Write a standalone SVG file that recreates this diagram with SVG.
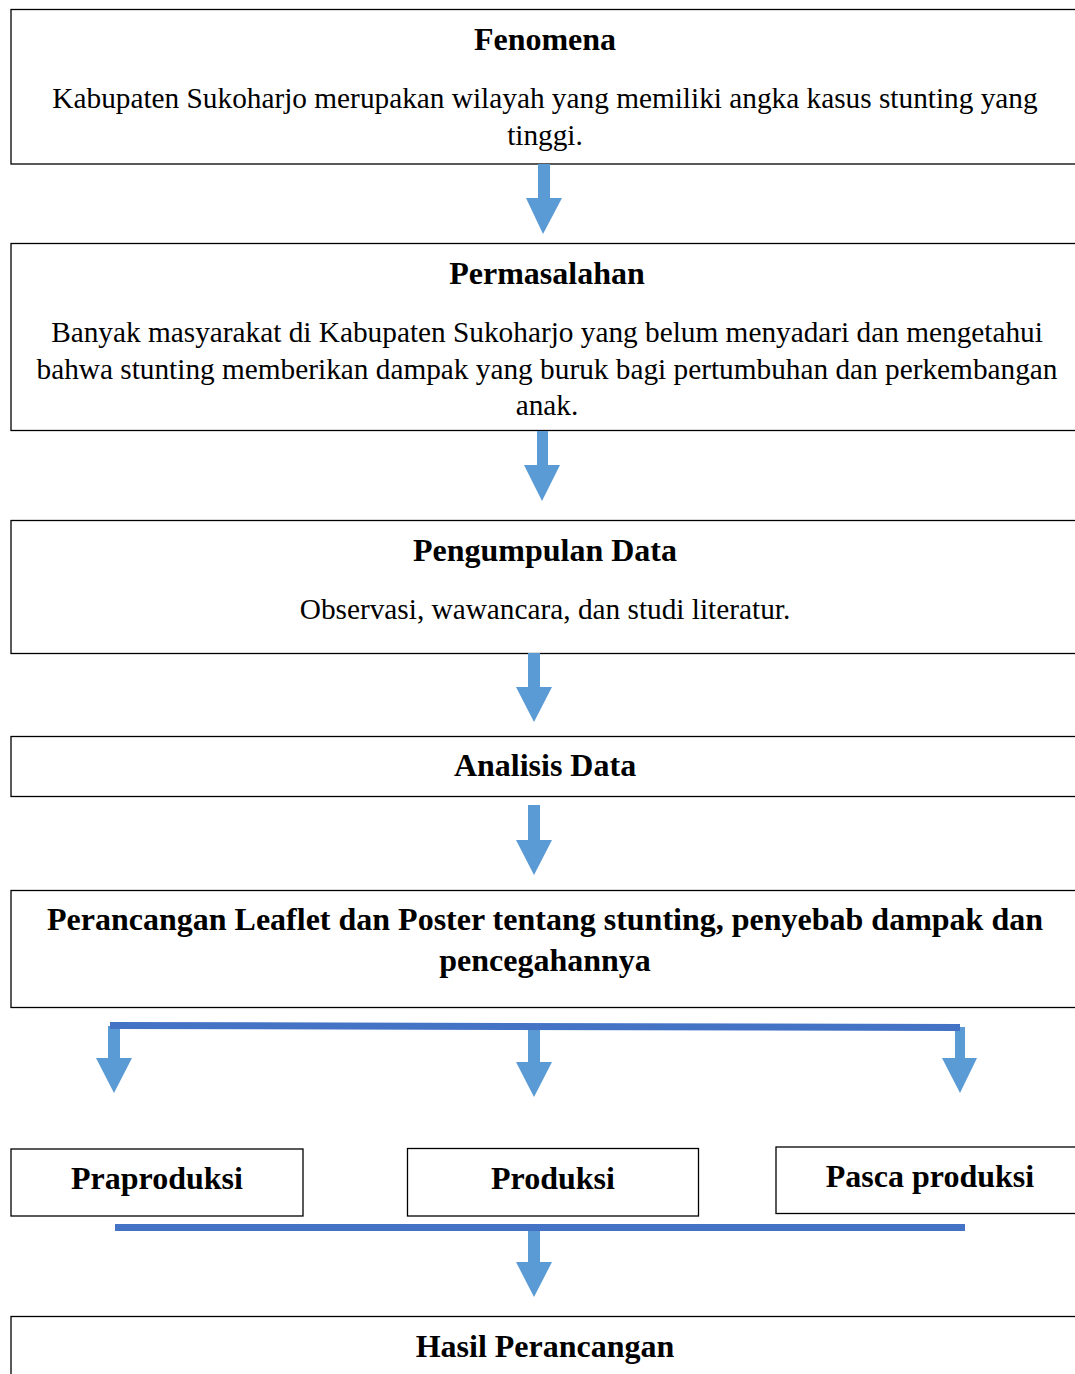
<svg xmlns="http://www.w3.org/2000/svg" width="1075" height="1374" viewBox="0 0 1075 1374">
<style>
.box{fill:#fff;stroke:#000;stroke-width:1.3}
.t{font-family:"Liberation Serif","Times New Roman",serif;font-size:29.3px;fill:#000;text-anchor:middle}
.b{font-weight:bold;font-size:32px}
.arr{fill:#5B9BD5}
.bar{fill:#4472C4}
</style>
<rect width="1075" height="1374" fill="#fff"/>
<g id="n1"><rect class="box" x="11" y="9.5" width="1080" height="154.5"/>
<text class="t b" x="545" y="50">Fenomena</text>
<text class="t" x="545" y="108">Kabupaten Sukoharjo merupakan wilayah yang memiliki angka kasus stunting yang</text>
<text class="t" x="545" y="145">tinggi.</text></g>
<g id="n2"><rect class="box" x="11" y="243.5" width="1080" height="187"/>
<text class="t b" x="547" y="284">Permasalahan</text>
<text class="t" x="547" y="342">Banyak masyarakat di Kabupaten Sukoharjo yang belum menyadari dan mengetahui</text>
<text class="t" x="547" y="379">bahwa stunting memberikan dampak yang buruk bagi pertumbuhan dan perkembangan</text>
<text class="t" x="547" y="415">anak.</text></g>
<g id="n3"><rect class="box" x="11" y="520.5" width="1080" height="133"/>
<text class="t b" x="545" y="561">Pengumpulan Data</text>
<text class="t" x="545" y="619">Observasi, wawancara, dan studi literatur.</text></g>
<g id="n4"><rect class="box" x="11" y="736.5" width="1080" height="60"/>
<text class="t b" x="545" y="776">Analisis Data</text></g>
<g id="n5"><rect class="box" x="11" y="890.5" width="1080" height="117"/>
<text class="t b" x="545" y="930">Perancangan Leaflet dan Poster tentang stunting, penyebab dampak dan</text>
<text class="t b" x="545" y="971">pencegahannya</text></g>
<g id="n6"><rect class="box" x="11" y="1149" width="292" height="67"/>
<text class="t b" x="157" y="1189">Praproduksi</text></g>
<g id="n7"><rect class="box" x="407.5" y="1148.5" width="291" height="67.5"/>
<text class="t b" x="553" y="1189">Produksi</text></g>
<g id="n8"><rect class="box" x="776" y="1147" width="310" height="66.5"/>
<text class="t b" x="930" y="1187">Pasca produksi</text></g>
<g id="n9"><rect class="box" x="11" y="1316.5" width="1080" height="70"/>
<text class="t b" x="545" y="1357">Hasil Perancangan</text></g>
<g id="connectors">
<polygon class="arr" points="538,164 550,164 550,198 562,198 543,234 526,198 538,198"/>
<polygon class="arr" points="537,431 548,431 548,465 560,465 542,501 524,465 537,465"/>
<polygon class="arr" points="528,653 540,653 540,687 552,687 534,722 516,687 528,687"/>
<polygon class="arr" points="528,805 540,805 540,840 552,840 534,875 516,840 528,840"/>
<polygon class="arr" points="108,1026 120,1026 120,1058 132,1058 114,1093 96,1058 108,1058"/>
<polygon class="arr" points="528,1027 540,1027 540,1062 552,1062 534,1097 516,1062 528,1062"/>
<polygon class="arr" points="955,1027 965,1027 965,1058 977,1058 960,1093 942,1058 955,1058"/>
<polygon class="arr" points="528,1228 540,1228 540,1262 552,1262 534,1297 516,1262 528,1262"/>
<polygon class="bar" points="110,1022 960,1024 960,1031 110,1029"/>
<rect class="bar" x="115" y="1224" width="850" height="7"/>
</g>
</svg>
